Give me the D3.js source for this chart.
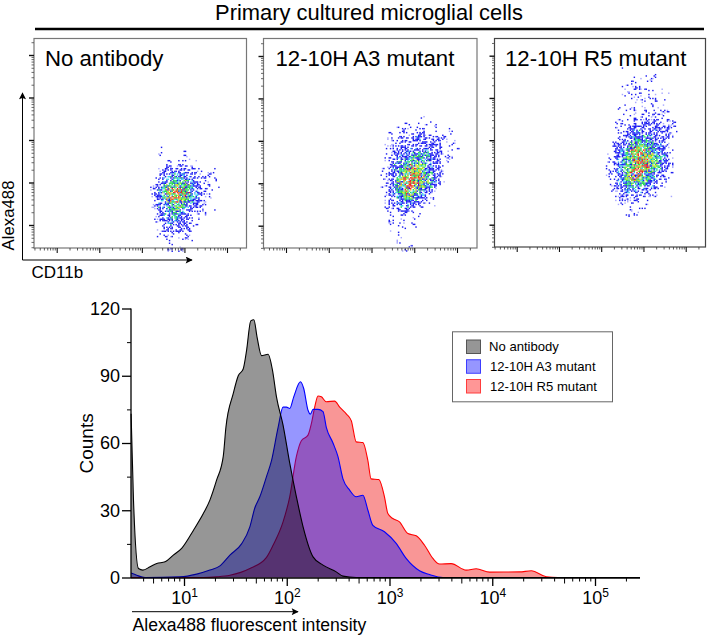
<!DOCTYPE html>
<html><head><meta charset="utf-8">
<script src="https://cdn.jsdelivr.net/npm/d3@7/dist/d3.min.js"></script>
<style>html,body{margin:0;padding:0;background:#fff}svg{display:block}text{font-family:"Liberation Sans",Arial,sans-serif;fill:#000}</style>
</head><body><svg id="c" width="709" height="636"></svg>
<script>
// Histogram: log10 intensity / counts
const blackLog=[0.485,0.508,0.557,0.599,0.670,0.735,0.816,0.896,0.977,1.091,1.188,1.252,1.317,1.382,1.408,1.479,1.528,1.576,1.608,1.650,1.680,1.712,1.754,1.819,1.861,1.900,1.964,2.029,2.094,2.159,2.256,2.353,2.482,2.547,2.676,5.438];
const blackCounts=[73,35,4,3.3,4.8,6.2,7,10,13,21,28.5,34.5,43.4,54,67,82,90,93,101,114.5,115,107,99,99.6,92.5,80.6,68,51,36,22.6,9.2,5.5,2.5,0.6,0,0];
const blueLog=[0.485,0.540,0.621,0.961,1.123,1.252,1.350,1.447,1.560,1.641,1.689,1.738,1.803,1.851,1.916,1.964,1.997,2.029,2.068,2.133,2.165,2.207,2.230,2.256,2.304,2.353,2.385,2.450,2.498,2.547,2.612,2.676,2.741,2.790,2.838,2.951,3.065,3.162,3.292,3.39,3.52,5.438];
const blueCounts=[2,1,0,0.3,1.5,3.3,5.2,10,15,22.6,31,36,45,52,67,76,76,75.4,80.6,87.3,84.3,74.6,72.9,75,75,74,67,60,54,44,39,36,36.7,30,23.3,20.4,15.2,8.5,3,1.3,0,0];
const redLog=[0.485,1.188,1.317,1.447,1.641,1.803,1.867,1.964,2.029,2.094,2.142,2.207,2.240,2.272,2.304,2.337,2.385,2.466,2.515,2.579,2.628,2.676,2.741,2.789,2.821,2.896,2.951,2.984,3.032,3.097,3.179,3.26,3.341,3.422,3.487,3.6,3.747,3.844,3.974,4.266,4.38,4.526,4.64,5.438];
const redCounts=[0,0,0.3,1,4,9,14.4,24.8,36,54,61,63.5,68.7,76,81,80.6,78.4,78.7,76,73,70,60.5,60.2,52.3,44,43.7,36,28.5,26.3,24.8,19.6,18.6,14.4,8.5,6,6.2,3.3,3.9,2.4,2.5,3,0.3,0,0];
const legendNames=["No antibody","12-10H A3 mutant","12-10H R5 mutant"];
const countTicks=[0,30,60,90,120];
const countMinor=[15,45,75,105];
const decades=[1,2,3,4,5];

// Dot plots: density level read per 0.094-decade cell (rows top to bottom)
const panelNames=["No antibody","12-10H A3 mutant","12-10H R5 mutant"];
const cloud1=["0000000000000000000","0010000000000000000","0000000010000000000","0010000010100000000","0010010001000000000","0001111110010000000","0011211221110000000","0012222222211010100","0122233332221011000","0123344443322210100","0123455554322211100","1224566665432210010","1235677765432211000","1235678876432110000","1235678765432111000","1234567654322110000","1233456543221100000","0123455432211100100","0123444332211100000","0123344322111000000","0122333222110000000","0112232222210000000","0112222222110000000","0011111121100000000","0101111111000000000","0000111000100000000","0000110100000000000","0000121210000000000"];
const cloud2=["000000000000000000000","000000000010000000000","000000100100100000000","000010010101010000000","001001101121111001000","001011112221211101000","011122222322222211000","001112222232222110100","011122222222221111000","011222333333222111010","011223334444322110000","012233445444322111000","012334455543322110000","012334566554322100000","112345677654332100000","112345678765432100000","112356789765432100000","112356788765432100000","112356787654321000000","012345676543210100000","012345665432100000000","012234554322110000000","012233433221100000000","012223322211010000000","011222211101010000000","011112111100000000000","001111111100000000000","001111110000000000000","001011011000000000000","001010100000000000000","000010000000000000000","001001000000000000000","000010000000000000000","000000010000000000000","000101100000000000000"];
const cloud3=["0000100000000000000","0000000001000000000","0000000100101000000","0000001010110000000","0000011110101000000","0000101211110010000","0000011110111011000","0000101110101100000","0000001111011110100","0000100101010010000","0001001101110100000","0000110111111111000","0000101112111211000","0001110211212111100","0011111212222211110","0011112222222222110","0001122333223222110","0011123333332222100","0012223443333222000","0122234555443321000","0122345666544321000","0123356777654321100","1123456788765432100","1123456789765432100","1223456789865432100","1123456788765432100","1223457877654321100","1223456776543221000","0123456665543211000","0123455554432111000","0122344443332110000","0112233332211000000","0011222222111000100","0011211211100000000","0001111110100000000","0000101011000000000","0000101010000000000","0000010100000000000","0000000000000000000"];
const cloudLogX=[3.195,3.21,3.11];
const cloudLogY=[3.0,3.68,4.756];
const cloudStep=0.094;
const cloudFill=[0,.16,.38,.55,.7,.8,.85,.85,.88,.9];

const svg=d3.select("#c");
const pow=v=>Math.pow(10,v);

// ---- Top title
svg.append("text").attr("x",369).attr("y",19.8).attr("text-anchor","middle").style("font-size","21.9px").text("Primary cultured microglial cells");
svg.append("line").attr("x1",35).attr("x2",704).attr("y1",29).attr("y2",29).attr("stroke","#000").attr("stroke-width",2.4);

// ---- Dot plots
const panelFrames=[
 {l:34,r:246.5,t:38.5,b:248,x1:56.7,x5:227,y1:225,y5:55,label:45,stroke:"#777"},
 {l:263.5,r:477,t:38.5,b:248,x1:286,x5:457,y1:225.7,y5:56,label:275.5,stroke:"#777"},
 {l:494.5,r:705.5,t:38.5,b:247,x1:516.7,x5:685.7,y1:224.7,y5:55.7,label:505,stroke:"#444"}
];
const clouds=[cloud1,cloud2,cloud3];
const minorVals=[];
for(let d=0;d<=5;d++)for(let k=2;k<=9;k++)minorVals.push(k*pow(d));
function heatColor(h){
  if(h<0.7)return "#8a8aff";
  if(h<3.1)return "#1010f0";
  if(h<3.9)return "#30c8f0";
  if(h<5.6)return "#18d848";
  if(h<6.8)return "#c8e020";
  if(h<7.6)return "#f0a010";
  return "#e81818";
}
panelFrames.forEach((p,pi)=>{
  const g=svg.append("g");
  const x=d3.scaleLog().domain([10,1e5]).range([p.x1,p.x5]);
  const y=d3.scaleLog().domain([10,1e5]).range([p.y1,p.y5]);
  const xMin=p.l,xMax=p.r,yMax=p.b,yMin=p.t;
  const xv=minorVals.filter(v=>x(v)>=xMin&&x(v)<=xMax);
  const yv=minorVals.filter(v=>y(v)<=yMax&&y(v)>=yMin);
  // density cells, speckled by an ordered dither
  const sub=[];
  clouds[pi].forEach((row,r)=>{
    for(let c=0;c<row.length;c++){
      const L=+row[c]; if(!L)continue;
      for(let i=0;i<3;i++)for(let j=0;j<3;j++){
        const a=c*3+i+pi*7,b=r*3+j;
        const t=(a*a*0.7548776662+b*b*0.5698402910+a*b*0.3141)%1;
        if(t<cloudFill[L]){
          const t2=(a*a*0.3247+b*b*0.8191+a*b*0.1618)%1;
          sub.push({lx:cloudLogX[pi]+(c+i/3)*cloudStep,ly:cloudLogY[pi]-(r+j/3)*cloudStep,h:L*(0.35+1.0*t2)});
        }
      }
    }
  });
  g.append("g").selectAll("rect").data(sub).join("rect")
    .attr("x",d=>x(pow(d.lx))).attr("y",d=>y(pow(d.ly)))
    .attr("width",d=>x(pow(d.lx+cloudStep/3))-x(pow(d.lx))+0.1)
    .attr("height",d=>y(pow(d.ly-cloudStep/3))-y(pow(d.ly))+0.1)
    .attr("fill",d=>heatColor(d.h)).attr("fill-opacity",d=>d.h<0.7?0.75:0.95);
  // frame
  g.append("rect").attr("x",p.l).attr("y",p.t).attr("width",p.r-p.l).attr("height",p.b-p.t).attr("fill","none").attr("stroke",p.stroke).attr("stroke-width",1.2);
  // axes
  const axB=g.append("g").attr("transform",`translate(0,${p.b})`);
  axB.call(d3.axisBottom(x).tickValues(xv).tickSize(2.5).tickFormat("")).call(s=>s.select(".domain").remove());
  axB.selectAll(".tick line").attr("stroke","#333").attr("stroke-width",.8);
  const axB2=g.append("g").attr("transform",`translate(0,${p.b})`);
  axB2.call(d3.axisBottom(x).tickValues(decades.map(pow)).tickSize(5).tickFormat("")).call(s=>s.select(".domain").remove());
  axB2.selectAll(".tick line").attr("stroke","#111").attr("stroke-width",1.1);
  const axL=g.append("g").attr("transform",`translate(${p.l},0)`);
  axL.call(d3.axisLeft(y).tickValues(yv).tickSize(2.5).tickFormat("")).call(s=>s.select(".domain").remove());
  axL.selectAll(".tick line").attr("stroke","#444").attr("stroke-width",.8);
  const axL2=g.append("g").attr("transform",`translate(${p.l},0)`);
  axL2.call(d3.axisLeft(y).tickValues(decades.map(pow)).tickSize(5).tickFormat("")).call(s=>s.select(".domain").remove());
  axL2.selectAll(".tick line").attr("stroke","#111").attr("stroke-width",1.4);
  g.append("text").attr("x",p.label).attr("y",66).style("font-size","22.2px").text(panelNames[pi]);
});

// arrows
const defs=svg.append("defs");
defs.append("marker").attr("id","ah").attr("viewBox","0 0 10 10").attr("refX",9).attr("refY",5).attr("markerWidth",8).attr("markerHeight",7).attr("markerUnits","userSpaceOnUse").attr("orient","auto")
  .append("path").attr("d","M0,0L10,5L0,10L2,5Z").attr("fill","#000");
const arrows=svg.append("g").attr("stroke","#000").attr("stroke-width",1).attr("fill","none");
arrows.append("path").attr("d","M22.5,260V93").attr("marker-end","url(#ah)");
arrows.append("path").attr("d","M22.5,260H192").attr("marker-end","url(#ah)");
arrows.append("path").attr("d","M132,611.7H298").attr("marker-end","url(#ah)");
svg.append("text").attr("transform","translate(13.5,250.5) rotate(-90)").style("font-size","16.8px").text("Alexa488");
svg.append("text").attr("x",31.5).attr("y",278).style("font-size","17px").text("CD11b");

// ---- Histogram
const hx=d3.scaleLog().domain([10,1e5]).range([184,595]);
const hy=d3.scaleLinear().domain([0,120]).range([577.5,308.5]);
const area=d3.area().x(d=>hx(pow(d[0]))).y0(hy(0)).y1(d=>hy(d[1])).curve(d3.curveMonotoneX);
const line=d3.line().x(d=>hx(pow(d[0]))).y(d=>hy(d[1])).curve(d3.curveMonotoneX);
const histSeries=[
 {lg:redLog,v:redCounts,c:"#f00000",s:"#ff0000"},
 {lg:blueLog,v:blueCounts,c:"#0000ff",s:"#0000ff"},
 {lg:blackLog,v:blackCounts,c:"#000",s:"#000"}
];
histSeries.forEach(s=>{
  const pts=s.lg.map((l,i)=>[l,s.v[i]]);
  svg.append("path").attr("d",area(pts)).attr("fill",s.c).attr("fill-opacity",.41);
  svg.append("path").attr("d",line(pts)).attr("fill","none").attr("stroke",s.s).attr("stroke-width",1.1);
});
const yAxis=svg.append("g").attr("transform","translate(131,0)");
yAxis.call(d3.axisLeft(hy).tickValues(countTicks).tickSize(9).tickPadding(2).tickFormat(d3.format("d")));
yAxis.select(".domain").attr("stroke-width",1.3).attr("d","M0,308.5V578");
yAxis.selectAll(".tick line").attr("stroke-width",1.3);
yAxis.selectAll("text").style("font-size","18px").style("font-family",'"Liberation Sans",Arial,sans-serif').attr("fill","#000");
const yMinor=svg.append("g").attr("transform","translate(131,0)");
yMinor.call(d3.axisLeft(hy).tickValues(countMinor).tickSize(4).tickFormat(""));
yMinor.select(".domain").remove();
yMinor.selectAll(".tick line").attr("stroke-width",1);

const xMinorVals=minorVals.filter(v=>hx(v)>=131&&hx(v)<=640);
const xAxisMinor=svg.append("g").attr("transform","translate(0,578)");
xAxisMinor.call(d3.axisBottom(hx).tickValues(xMinorVals).tickSize(3.5).tickFormat(""));
xAxisMinor.select(".domain").attr("stroke-width",1.3).attr("d","M131,0H640");
xAxisMinor.selectAll(".tick line").attr("stroke-width",1).filter(d=>Math.abs(Math.log10(d)%1-Math.log10(5))<1e-6).attr("y2",5.5);
const xAxis=svg.append("g").attr("transform","translate(0,578)");
xAxis.call(d3.axisBottom(hx).tickValues(decades.map(pow)).tickSize(8).tickPadding(7).tickFormat(""));
xAxis.select(".domain").remove();
xAxis.selectAll(".tick line").attr("stroke-width",1.3);
xAxis.selectAll(".tick").each(function(d){
  const t=d3.select(this).append("text").attr("y",26).attr("text-anchor","middle").attr("fill","#000");
  t.append("tspan").style("font-size","18px").text("10");
  t.append("tspan").style("font-size","12px").attr("dy",-7).text(Math.round(Math.log10(d)));
});
svg.append("text").attr("transform","translate(93,473.5) rotate(-90)").style("font-size","19px").text("Counts");
svg.append("text").attr("x",132.5).attr("y",631).style("font-size","17.6px").text("Alexa488 fluorescent intensity");

// legend
svg.append("rect").attr("x",452.5).attr("y",331.8).attr("width",160).attr("height",70).attr("fill","#fff").attr("stroke","#666").attr("stroke-width",1);
const legendFill=["#969696","#9696ff","#ff9696"];
const legendStroke=["#555","#3c3cff","#ff3c3c"];
const legendTextX=[489,490,490];
const legendRow=d3.scaleLinear().domain([0,2]).range([340,379.5]);
legendNames.forEach((n,i)=>{
  svg.append("rect").attr("x",466.5).attr("y",legendRow(i)).attr("width",14).attr("height",13.5).attr("fill",legendFill[i]).attr("stroke",legendStroke[i]).attr("stroke-width",1);
  svg.append("text").attr("x",legendTextX[i]).attr("y",legendRow(i)+11).style("font-size","13.1px").text(n);
});
</script></body></html>
